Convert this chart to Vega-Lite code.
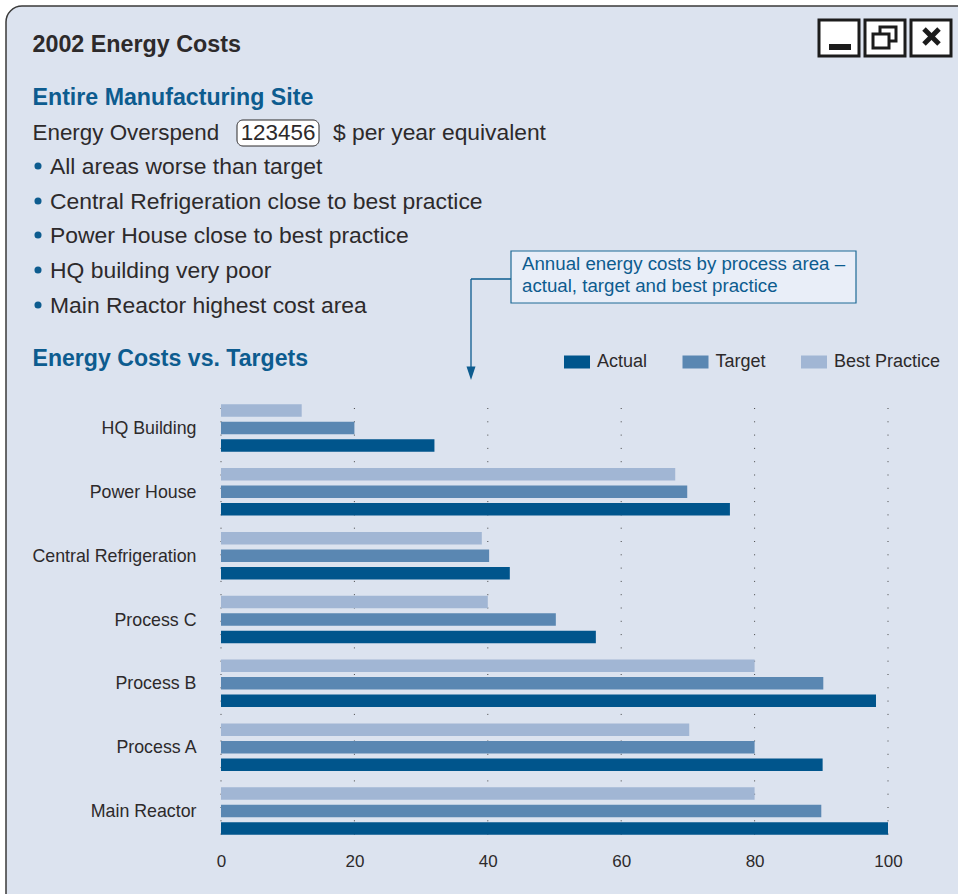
{"$schema":"https://vega.github.io/schema/vega-lite/v6.json","width":667,"height":447,"autosize":{"type":"none"},"padding":{"left":221,"top":396,"right":70,"bottom":51},"background":"#ffffff","config":{"view":{"stroke":null},"font":"Liberation Sans","text":{"font":"Liberation Sans"}},"layer":[
{"data":{"values":[{}]},"mark":{"type":"rect","fill":"#dce3ef","stroke":"#3a3a3a","strokeWidth":1.5,"cornerRadius":16},"encoding":{"x":{"value":-215},"x2":{"value":760},"y":{"value":-390},"y2":{"value":520}}},
{"data":{"values":[{"label":"2002 Energy Costs"}]},"mark":{"type":"text","align":"left","baseline":"alphabetic","x":-188.5,"y":-344,"fontSize":23.3,"fontWeight":"bold","fill":"#2d2a2b"},"encoding":{"text":{"field":"label"}}},
{"data":{"values":[{"label":"Entire Manufacturing Site"}]},"mark":{"type":"text","align":"left","baseline":"alphabetic","x":-188.5,"y":-291,"fontSize":23.2,"fontWeight":"bold","fill":"#0d5c8f"},"encoding":{"text":{"field":"label"}}},
{"data":{"values":[{"label":"Energy Overspend"}]},"mark":{"type":"text","align":"left","baseline":"alphabetic","x":-188.5,"y":-256,"fontSize":22.4,"fill":"#2d2a2b"},"encoding":{"text":{"field":"label"}}},
{"data":{"values":[{}]},"mark":{"type":"rect","fill":"#ffffff","stroke":"#2d2a2b","strokeWidth":1,"cornerRadius":6},"encoding":{"x":{"value":16},"x2":{"value":98},"y":{"value":-276},"y2":{"value":-250}}},
{"data":{"values":[{"label":"123456"}]},"mark":{"type":"text","align":"center","baseline":"alphabetic","x":57,"y":-256,"fontSize":22.4,"fill":"#2d2a2b"},"encoding":{"text":{"field":"label"}}},
{"data":{"values":[{"label":"$ per year equivalent"}]},"mark":{"type":"text","align":"left","baseline":"alphabetic","x":112,"y":-256,"fontSize":22.8,"fill":"#2d2a2b"},"encoding":{"text":{"field":"label"}}},
{"data":{"values":[{"label":"All areas worse than target"}]},"mark":{"type":"text","align":"left","baseline":"alphabetic","x":-171,"y":-222,"fontSize":22.9,"fill":"#2d2a2b"},"encoding":{"text":{"field":"label"}}},
{"data":{"values":[{"label":"Central Refrigeration close to best practice"}]},"mark":{"type":"text","align":"left","baseline":"alphabetic","x":-171,"y":-187,"fontSize":22.9,"fill":"#2d2a2b"},"encoding":{"text":{"field":"label"}}},
{"data":{"values":[{"label":"Power House close to best practice"}]},"mark":{"type":"text","align":"left","baseline":"alphabetic","x":-171,"y":-153,"fontSize":22.9,"fill":"#2d2a2b"},"encoding":{"text":{"field":"label"}}},
{"data":{"values":[{"label":"HQ building very poor"}]},"mark":{"type":"text","align":"left","baseline":"alphabetic","x":-171,"y":-118,"fontSize":22.9,"fill":"#2d2a2b"},"encoding":{"text":{"field":"label"}}},
{"data":{"values":[{"label":"Main Reactor highest cost area"}]},"mark":{"type":"text","align":"left","baseline":"alphabetic","x":-171,"y":-83,"fontSize":22.9,"fill":"#2d2a2b"},"encoding":{"text":{"field":"label"}}},
{"data":{"values":[{}]},"mark":{"type":"circle","fill":"#0d5c8f","size":50,"opacity":1,"x":-183,"y":-230},"encoding":{}},
{"data":{"values":[{}]},"mark":{"type":"circle","fill":"#0d5c8f","size":50,"opacity":1,"x":-183,"y":-195},"encoding":{}},
{"data":{"values":[{}]},"mark":{"type":"circle","fill":"#0d5c8f","size":50,"opacity":1,"x":-183,"y":-161},"encoding":{}},
{"data":{"values":[{}]},"mark":{"type":"circle","fill":"#0d5c8f","size":50,"opacity":1,"x":-183,"y":-126},"encoding":{}},
{"data":{"values":[{}]},"mark":{"type":"circle","fill":"#0d5c8f","size":50,"opacity":1,"x":-183,"y":-91},"encoding":{}},
{"data":{"values":[{"label":"Energy Costs vs. Targets"}]},"mark":{"type":"text","align":"left","baseline":"alphabetic","x":-188.5,"y":-30,"fontSize":23.1,"fontWeight":"bold","fill":"#0d5c8f"},"encoding":{"text":{"field":"label"}}},
{"data":{"values":[{}]},"mark":{"type":"rect","fill":"#e9eef8","stroke":"#1f6a96","strokeWidth":1.2},"encoding":{"x":{"value":290},"x2":{"value":635},"y":{"value":-145},"y2":{"value":-93}}},
{"data":{"values":[{"label":"Annual energy costs by process area –"}]},"mark":{"type":"text","align":"left","baseline":"alphabetic","x":301,"y":-126,"fontSize":18.7,"fill":"#0d5c8f"},"encoding":{"text":{"field":"label"}}},
{"data":{"values":[{"label":"actual, target and best practice"}]},"mark":{"type":"text","align":"left","baseline":"alphabetic","x":301,"y":-104,"fontSize":18.7,"fill":"#0d5c8f"},"encoding":{"text":{"field":"label"}}},
{"data":{"values":[{}]},"mark":{"type":"rule","stroke":"#0d5c8f","strokeWidth":1.3},"encoding":{"x":{"value":290},"x2":{"value":250},"y":{"value":-117},"y2":{"value":-117}}},
{"data":{"values":[{}]},"mark":{"type":"rule","stroke":"#0d5c8f","strokeWidth":1.3},"encoding":{"x":{"value":250},"x2":{"value":250},"y":{"value":-117},"y2":{"value":-28}}},
{"data":{"values":[{}]},"mark":{"type":"point","shape":"M-0.5,-0.5H0.5L0,1Z","filled":true,"fill":"#0d5c8f","size":324,"opacity":1,"x":250,"y":-25},"encoding":{}},
{"data":{"values":[{}]},"mark":{"type":"rect","fill":"#ffffff","stroke":"#1c1c1c","strokeWidth":3},"encoding":{"x":{"value":598},"x2":{"value":638},"y":{"value":-376},"y2":{"value":-340}}},
{"data":{"values":[{}]},"mark":{"type":"rect","fill":"#ffffff","stroke":"#1c1c1c","strokeWidth":3},"encoding":{"x":{"value":644},"x2":{"value":684},"y":{"value":-376},"y2":{"value":-340}}},
{"data":{"values":[{}]},"mark":{"type":"rect","fill":"#ffffff","stroke":"#1c1c1c","strokeWidth":3},"encoding":{"x":{"value":690},"x2":{"value":730},"y":{"value":-376},"y2":{"value":-340}}},
{"data":{"values":[{}]},"mark":{"type":"rect","fill":"#1c1c1c"},"encoding":{"x":{"value":608},"x2":{"value":630},"y":{"value":-352},"y2":{"value":-346}}},
{"data":{"values":[{}]},"mark":{"type":"rect","fill":"#ffffff","stroke":"#1c1c1c","strokeWidth":3},"encoding":{"x":{"value":659},"x2":{"value":675},"y":{"value":-369},"y2":{"value":-355}}},
{"data":{"values":[{}]},"mark":{"type":"rect","fill":"#ffffff","stroke":"#1c1c1c","strokeWidth":3},"encoding":{"x":{"value":652},"x2":{"value":668},"y":{"value":-362},"y2":{"value":-348}}},
{"data":{"values":[{}]},"mark":{"type":"rule","stroke":"#1c1c1c","strokeWidth":5},"encoding":{"x":{"value":703},"x2":{"value":718},"y":{"value":-367},"y2":{"value":-352}}},
{"data":{"values":[{}]},"mark":{"type":"rule","stroke":"#1c1c1c","strokeWidth":5},"encoding":{"x":{"value":718},"x2":{"value":703},"y":{"value":-367},"y2":{"value":-352}}},
{"data":{"values":[{"tick":0},{"tick":20},{"tick":40},{"tick":60},{"tick":80},{"tick":100}]},"mark":{"type":"rule","stroke":"#444444","strokeWidth":1,"strokeDash":[1,12.3]},"encoding":{"x":{"field":"tick","type":"quantitative","scale":{"domain":[0,100]},"axis":{"title":null,"zindex":1,"values":[0,20,40,60,80,100],"domain":false,"ticks":false,"grid":false,"labelFontSize":17,"labelColor":"#2d2a2b","labelFont":"Liberation Sans","labelPadding":10,"labelFlush":false}},"y":{"value":12},"y2":{"value":444}}},
{"data":{"values":[
{"area":"HQ Building","series":"Best Practice","cost":12.1},{"area":"HQ Building","series":"Target","cost":20},{"area":"HQ Building","series":"Actual","cost":32},
{"area":"Power House","series":"Best Practice","cost":68.1},{"area":"Power House","series":"Target","cost":69.9},{"area":"Power House","series":"Actual","cost":76.3},
{"area":"Central Refrigeration","series":"Best Practice","cost":39.1},{"area":"Central Refrigeration","series":"Target","cost":40.2},{"area":"Central Refrigeration","series":"Actual","cost":43.3},
{"area":"Process C","series":"Best Practice","cost":40},{"area":"Process C","series":"Target","cost":50.2},{"area":"Process C","series":"Actual","cost":56.2},
{"area":"Process B","series":"Best Practice","cost":80},{"area":"Process B","series":"Target","cost":90.3},{"area":"Process B","series":"Actual","cost":98.2},
{"area":"Process A","series":"Best Practice","cost":70.2},{"area":"Process A","series":"Target","cost":80},{"area":"Process A","series":"Actual","cost":90.2},
{"area":"Main Reactor","series":"Best Practice","cost":80},{"area":"Main Reactor","series":"Target","cost":90},{"area":"Main Reactor","series":"Actual","cost":100}
]},"mark":{"type":"bar"},"encoding":{
"x":{"field":"cost","type":"quantitative","scale":{"domain":[0,100]},"axis":{"title":null,"zindex":1,"values":[0,20,40,60,80,100],"domain":false,"ticks":false,"grid":false,"labelFontSize":17,"labelColor":"#2d2a2b","labelFont":"Liberation Sans","labelPadding":10,"labelFlush":false}},
"y":{"field":"area","type":"nominal","sort":["HQ Building","Power House","Central Refrigeration","Process C","Process B","Process A","Main Reactor"],"scale":{"paddingInner":0,"paddingOuter":0},"axis":{"title":null,"zindex":1,"domain":false,"ticks":false,"labelFontSize":17.8,"labelColor":"#2d2a2b","labelFont":"Liberation Sans","labelPadding":25,"labelOffset":1}},
"yOffset":{"field":"series","type":"nominal","sort":["Best Practice","Target","Actual"],"scale":{"paddingInner":0.286,"paddingOuter":0.4675}},
"color":{"field":"series","type":"nominal","sort":["Actual","Target","Best Practice"],"scale":{"domain":["Actual","Target","Best Practice"],"range":["#00558c","#5a87b2","#a1b6d4"]},"legend":{"title":null,"orient":"none","legendX":343,"legendY":-47,"direction":"horizontal","columns":3,"gridAlign":"each","columnPadding":34.5,"symbolType":"M-1,-0.5H1V0.5H-1Z","symbolSize":676,"symbolStrokeWidth":0,"labelFontSize":18,"labelColor":"#2d2a2b","labelFont":"Liberation Sans","labelOffset":7}}
}}
]}
